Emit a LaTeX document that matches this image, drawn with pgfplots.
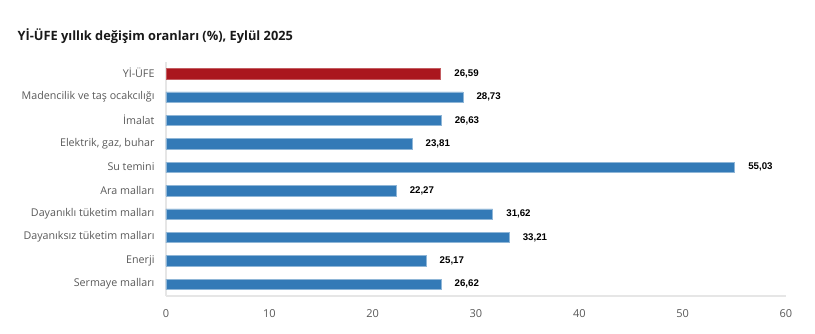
\documentclass[border=0pt]{standalone}
\usepackage{pgfplots}
\pgfplotsset{compat=1.18}
\usepackage{fontspec}
\setmainfont{Open Sans}
\newfontfamily\valfont{Liberation Sans}
\definecolor{barblue}{HTML}{337AB7}
\definecolor{barred}{HTML}{AA161E}
\definecolor{labgray}{HTML}{595959}
\definecolor{axgray}{HTML}{E6E6E6}
\begin{document}
\begin{tikzpicture}[x=1pt,y=1pt]
\useasboundingbox (-166,-37) rectangle (649,296);
\node[anchor=west, font=\fontsize{12.8}{15}\selectfont\bfseries, text=black!90] at (-152,260) {Yİ-ÜFE yıllık değişim oranları (\%), Eylül 2025};
\begin{axis}[
  at={(0,0)}, anchor=south west,
  scale only axis, width=620pt, height=234pt,
  xbar, bar width=10.5pt,
  xmin=0, xmax=60, ymin=-0.5, ymax=9.5,
  y dir=reverse,
  axis lines*=left,
  axis line style={draw=axgray, line width=1.5pt},
  major tick length=0pt,
  xtick={0,10,...,60},
  ytick={0,...,9},
  yticklabels={Yİ-ÜFE, Madencilik ve taş ocakcılığı, İmalat, {Elektrik, gaz, buhar}, Su temini, Ara malları, Dayanıklı tüketim malları, Dayanıksız tüketim malları, Enerji, Sermaye malları},
  yticklabel style={font=\fontsize{10.7}{13}\selectfont, text=labgray, xshift=-8pt, yshift=0.5pt},
  xticklabel style={font=\fontsize{11}{13}\selectfont, text=labgray, yshift=-10pt},
  /pgf/number format/assume math mode=true,
  nodes near coords,
  nodes near coords style={anchor=west, xshift=10pt, font=\valfont\fontsize{9.7}{11}\selectfont\bfseries, text=black,
    /pgf/number format/.cd, use comma, fixed, fixed zerofill, precision=2, assume math mode=true},
  clip=false,
]
\addplot[fill=barred, draw=barred!70!white, line width=0.6pt, bar shift=0pt] coordinates {(26.59,0)};
\addplot[fill=barblue, draw=barblue!55!white, line width=0.6pt, bar shift=0pt] coordinates {
(28.73,1) (26.63,2) (23.81,3) (55.03,4) (22.27,5) (31.62,6) (33.21,7) (25.17,8) (26.62,9)};
\end{axis}
\end{tikzpicture}
\end{document}
